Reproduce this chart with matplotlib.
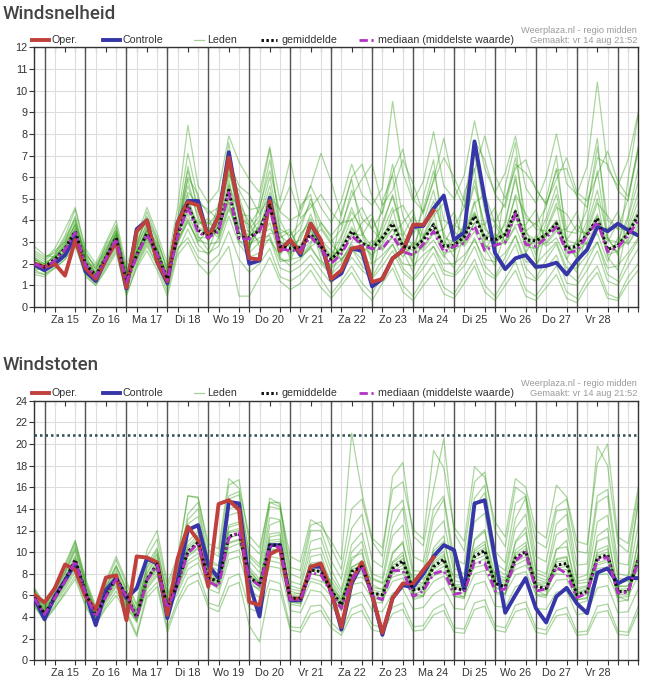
import numpy as np
import matplotlib
matplotlib.use('Agg')
import matplotlib.pyplot as plt
from matplotlib.lines import Line2D

W, H = 647, 682

days = ['Za 15', 'Zo 16', 'Ma 17', 'Di 18', 'Wo 19', 'Do 20', 'Vr 21',
        'Za 22', 'Zo 23', 'Ma 24', 'Di 25', 'Wo 26', 'Do 27', 'Vr 28']

# ---- Windsnelheid (6-hourly steps, start vr 14 18:00) ----
oper_snelheid = [2.0, 1.85, 2.0, 1.45, 3.1, 1.8, 1.3, 2.2, 3.0, 0.9, 3.5, 4.0, 2.1, 1.2, 3.9, 4.85, 4.7, 3.2, 4.2, 6.9,
                 4.6, 2.25, 2.2, 4.9, 2.6, 3.1, 2.5, 3.85, 3.1, 1.3, 1.7, 2.7, 2.8, 1.15, 1.3, 2.25, 2.6, 3.8, 3.8, 4.45]
ctrl_snelheid = [1.95, 1.7, 2.0, 2.4, 3.25, 1.65, 1.2, 2.2, 3.1, 0.85, 3.6, 4.0, 2.1, 1.1, 3.9, 4.9, 4.9, 3.2, 4.2, 7.15,
                 4.5, 2.0, 2.15, 5.05, 2.6, 3.1, 2.4, 3.85, 3.0, 1.25, 1.55, 2.7, 2.6, 0.95, 1.3, 2.25, 2.6, 3.7, 3.75, 4.55,
                 5.15, 3.1, 3.45, 7.65, 5.0, 2.5, 1.75, 2.25, 2.4, 1.85, 1.9, 2.05, 1.5, 2.15, 2.65, 3.7, 3.5, 3.85, 3.55, 3.3]
gem_snelheid = [2.0, 1.85, 2.2, 2.7, 3.5, 2.0, 1.45, 2.3, 3.2, 1.2, 2.4, 3.4, 2.5, 1.3, 3.3, 4.7, 3.55, 3.25, 3.6, 5.4,
                3.2, 3.2, 3.55, 4.7, 2.8, 2.7, 2.75, 3.35, 2.8, 2.2, 2.65, 3.5, 2.95, 2.7, 3.2, 3.85, 2.8, 2.7, 3.1, 3.8,
                2.8, 2.85, 3.25, 4.2, 3.2, 3.1, 3.35, 4.4, 3.1, 3.05, 3.35, 3.85, 2.7, 2.8, 3.35, 4.1, 2.65, 2.85, 3.4, 4.25]
med_snelheid = [2.0, 1.8, 2.15, 2.65, 3.45, 1.95, 1.4, 2.25, 3.15, 1.15, 2.35, 3.35, 2.45, 1.25, 3.25, 4.6, 3.45, 3.2, 3.5, 5.3,
                3.15, 3.15, 3.5, 4.6, 2.7, 2.6, 2.65, 3.25, 2.7, 2.0, 2.45, 3.3, 2.85, 2.7, 2.7, 3.3, 2.55, 2.4, 2.9, 3.5,
                2.55, 2.8, 2.95, 3.75, 2.6, 2.85, 3.0, 4.3, 2.9, 2.8, 3.2, 3.7, 2.5, 2.6, 3.3, 3.95, 2.55, 2.75, 3.3, 4.0]
leden_snelheid = [
    [2.2, 1.9, 2.4, 3.1, 4.0, 2.3, 1.6, 2.6, 3.6, 1.0, 2.7, 3.9, 2.8, 1.1, 3.8, 5.6, 4.2, 3.0, 4.1, 6.2, 4.5, 2.8, 3.6, 5.3, 3.1, 2.4, 3.3, 4.1, 2.5, 1.9, 3.2, 4.4, 3.6, 2.2, 3.9, 5.1, 3.3, 2.1, 3.7, 4.9, 3.4, 2.6, 3.9, 5.6, 3.8, 2.7, 4.0, 5.9, 3.6, 2.4, 3.9, 5.2, 3.0, 2.2, 3.8, 5.4, 3.2, 2.5, 4.1, 5.8],
    [1.8, 1.7, 2.0, 2.4, 3.1, 1.7, 1.3, 2.0, 2.8, 1.4, 2.1, 3.0, 2.2, 1.5, 2.9, 4.0, 3.0, 3.6, 3.2, 4.6, 3.6, 3.5, 3.0, 3.1, 2.4, 3.0, 2.3, 2.8, 3.1, 2.6, 2.2, 2.9, 2.4, 3.1, 2.7, 3.2, 2.3, 3.0, 2.6, 3.1, 2.3, 3.2, 2.8, 3.5, 2.6, 3.4, 2.9, 3.7, 2.5, 3.3, 2.8, 3.2, 2.2, 3.1, 2.9, 3.4, 2.1, 3.2, 2.9, 3.6],
    [2.6, 2.3, 2.5, 3.3, 4.5, 2.6, 1.7, 2.9, 3.8, 1.6, 3.0, 4.2, 3.1, 1.8, 4.0, 6.3, 4.6, 3.4, 4.3, 6.8, 5.1, 3.6, 4.2, 6.0, 3.6, 3.3, 3.9, 4.8, 3.7, 3.0, 3.6, 5.4, 4.1, 3.6, 4.4, 6.6, 4.2, 3.3, 4.5, 6.3, 4.0, 3.7, 4.6, 7.1, 4.4, 3.9, 4.8, 6.9, 4.1, 3.8, 4.6, 6.4, 3.5, 3.4, 4.5, 7.4, 4.0, 3.6, 5.0, 7.2],
    [1.5, 1.4, 1.8, 2.2, 2.8, 1.5, 1.0, 1.8, 2.6, 0.5, 1.9, 2.8, 1.9, 0.7, 2.6, 3.6, 2.6, 2.5, 2.8, 4.2, 2.9, 2.3, 2.5, 3.2, 1.8, 1.6, 1.9, 2.4, 1.7, 1.1, 1.6, 2.3, 1.7, 1.3, 1.9, 2.6, 1.6, 1.2, 1.8, 2.5, 1.5, 1.4, 1.9, 2.8, 1.6, 1.3, 2.0, 2.9, 1.4, 1.2, 1.8, 2.4, 1.1, 1.0, 1.7, 2.6, 1.2, 1.0, 1.9, 2.7],
    [2.0, 2.0, 2.3, 2.8, 3.4, 2.1, 1.5, 2.4, 3.3, 1.3, 2.5, 3.5, 2.6, 1.2, 3.4, 4.9, 3.8, 4.1, 3.3, 5.7, 4.3, 4.2, 3.4, 3.6, 3.2, 3.5, 2.6, 3.0, 3.6, 2.9, 2.4, 3.4, 3.3, 4.1, 3.1, 3.6, 3.3, 4.2, 3.3, 3.6, 2.9, 3.8, 3.5, 4.4, 3.2, 3.8, 3.0, 4.2, 3.5, 3.9, 3.2, 4.0, 3.1, 3.8, 3.3, 4.3, 3.0, 3.9, 3.5, 4.5],
    [2.3, 1.8, 2.1, 2.6, 3.7, 2.2, 1.4, 2.2, 3.0, 0.9, 2.3, 3.3, 2.4, 1.4, 3.1, 5.2, 3.3, 2.6, 3.9, 5.9, 3.5, 2.7, 3.9, 4.4, 2.2, 2.1, 3.4, 3.9, 2.2, 1.4, 2.9, 4.1, 2.6, 1.5, 3.5, 4.6, 2.6, 1.6, 3.3, 4.4, 2.4, 1.8, 3.4, 4.9, 2.7, 1.9, 3.5, 5.1, 2.5, 1.7, 3.6, 4.8, 2.2, 1.6, 3.6, 5.0, 2.3, 1.7, 3.8, 5.3],
    [1.9, 1.6, 2.2, 2.9, 3.6, 1.9, 1.2, 2.5, 3.4, 1.1, 2.6, 3.6, 2.7, 1.0, 3.5, 4.4, 3.9, 3.9, 3.5, 5.0, 4.8, 3.9, 2.8, 3.4, 3.4, 3.6, 2.4, 2.9, 3.9, 3.2, 2.1, 3.0, 3.9, 4.3, 2.6, 3.3, 3.9, 4.5, 2.7, 3.4, 3.6, 4.4, 2.9, 3.9, 3.8, 4.6, 2.9, 3.8, 3.8, 4.5, 2.9, 3.5, 3.6, 4.4, 2.8, 3.7, 3.6, 4.4, 2.9, 3.8],
    [2.1, 1.9, 2.0, 2.5, 3.3, 1.8, 1.6, 2.1, 3.1, 1.5, 2.2, 3.1, 2.3, 1.6, 3.0, 4.3, 3.2, 3.2, 3.7, 4.9, 3.0, 3.0, 3.7, 4.9, 2.9, 2.5, 2.9, 3.6, 2.6, 2.3, 2.8, 3.7, 3.0, 2.6, 3.1, 3.9, 2.9, 2.6, 3.1, 3.9, 2.8, 2.7, 3.2, 4.3, 3.1, 3.0, 3.3, 4.5, 3.0, 2.9, 3.3, 3.9, 2.6, 2.7, 3.3, 4.1, 2.6, 2.8, 3.4, 4.2],
    [2.4, 2.1, 2.6, 3.0, 4.2, 2.4, 1.9, 2.8, 3.5, 1.7, 2.9, 4.1, 3.0, 1.7, 4.1, 7.1, 5.0, 4.3, 4.6, 6.1, 5.4, 4.5, 4.6, 6.3, 4.4, 4.0, 4.3, 5.6, 4.6, 3.9, 4.9, 6.6, 5.2, 4.7, 5.5, 9.5, 6.2, 4.9, 5.8, 8.1, 5.6, 5.0, 6.1, 8.6, 6.4, 5.3, 6.2, 7.9, 5.5, 4.8, 6.0, 8.0, 5.7, 5.2, 6.5, 10.4, 6.4, 5.6, 6.8, 9.0],
    [1.6, 1.5, 1.9, 2.3, 3.0, 1.6, 1.1, 1.9, 2.7, 0.8, 2.0, 2.9, 2.0, 0.9, 2.7, 3.2, 2.3, 2.0, 2.4, 3.5, 2.2, 1.6, 2.0, 2.7, 1.4, 1.2, 1.5, 2.0, 1.3, 0.6, 1.2, 1.9, 1.1, 0.6, 1.5, 2.1, 1.0, 0.5, 1.3, 2.0, 0.9, 0.6, 1.4, 2.2, 1.0, 0.5, 1.3, 2.1, 0.8, 0.5, 1.2, 1.9, 0.7, 0.4, 1.3, 1.9, 0.6, 0.4, 1.4, 2.0],
    [2.2, 2.0, 2.3, 2.7, 3.9, 2.4, 1.5, 2.3, 3.5, 1.3, 2.4, 3.7, 2.9, 1.3, 3.6, 5.9, 4.0, 3.6, 3.8, 6.4, 4.7, 3.4, 4.0, 5.6, 3.3, 2.9, 3.1, 4.3, 3.0, 2.4, 3.3, 4.6, 3.4, 2.8, 3.7, 5.2, 3.5, 2.8, 3.9, 5.4, 3.2, 3.0, 3.7, 5.9, 3.6, 3.2, 3.8, 6.1, 3.4, 3.1, 4.1, 5.6, 3.1, 2.9, 4.0, 6.3, 3.1, 3.0, 4.2, 6.4],
    [1.7, 1.8, 2.1, 2.6, 3.2, 1.9, 1.3, 2.2, 3.0, 1.2, 2.3, 3.2, 2.4, 1.2, 3.1, 3.9, 3.1, 2.9, 3.0, 4.5, 3.4, 2.9, 3.2, 3.3, 2.1, 2.2, 2.3, 2.7, 2.1, 1.8, 2.2, 2.7, 2.2, 2.0, 2.4, 2.9, 2.0, 1.9, 2.4, 2.8, 2.0, 2.0, 2.4, 3.1, 2.2, 2.1, 2.5, 3.3, 2.1, 2.0, 2.5, 3.0, 1.8, 1.8, 2.4, 3.0, 1.8, 1.9, 2.5, 3.2],
    [2.0, 1.7, 2.3, 3.0, 3.8, 2.2, 1.6, 2.5, 3.4, 1.4, 2.6, 3.5, 2.6, 1.4, 3.5, 6.5, 4.4, 3.8, 4.4, 7.6, 4.1, 3.8, 4.5, 6.8, 4.0, 3.1, 3.6, 5.0, 3.9, 3.3, 3.9, 4.0, 4.6, 3.6, 3.0, 4.4, 4.7, 3.8, 3.2, 4.2, 4.8, 3.5, 3.0, 4.8, 5.2, 3.9, 3.3, 5.2, 4.3, 3.6, 3.5, 4.6, 4.3, 3.5, 3.4, 4.8, 4.2, 3.6, 3.6, 4.9],
    [2.1, 1.8, 2.2, 2.8, 3.5, 2.0, 1.4, 2.3, 3.2, 1.1, 2.4, 3.4, 2.5, 1.2, 3.3, 4.6, 3.6, 3.4, 3.4, 5.2, 3.7, 3.3, 3.5, 4.5, 3.0, 2.8, 2.7, 3.4, 2.7, 2.2, 2.5, 3.3, 2.8, 2.4, 2.9, 3.6, 2.6, 2.4, 2.8, 3.5, 2.5, 2.6, 3.0, 3.9, 2.8, 2.8, 3.0, 4.2, 2.8, 2.7, 3.0, 3.6, 2.5, 2.5, 3.0, 3.9, 2.4, 2.6, 3.1, 4.0],
    [2.3, 2.0, 2.4, 3.2, 4.1, 2.1, 1.8, 2.7, 3.3, 1.5, 2.8, 3.8, 2.7, 1.5, 3.9, 5.3, 4.8, 4.5, 4.0, 6.7, 5.6, 5.2, 4.3, 5.1, 4.5, 5.6, 4.1, 4.6, 5.2, 4.4, 3.8, 5.1, 5.9, 6.6, 4.7, 5.4, 6.8, 5.7, 4.3, 5.9, 7.8, 5.6, 4.6, 6.3, 7.9, 6.1, 5.0, 6.4, 6.8, 5.4, 4.8, 5.9, 6.9, 5.3, 4.9, 6.1, 7.2, 5.8, 5.1, 7.4],
    [1.9, 1.9, 2.1, 2.5, 3.2, 1.8, 1.3, 2.1, 2.9, 1.0, 2.2, 3.2, 2.2, 1.0, 3.0, 4.1, 2.9, 2.4, 3.2, 4.8, 3.1, 2.5, 3.0, 3.9, 2.3, 1.9, 2.2, 2.8, 2.0, 1.5, 2.0, 2.7, 1.9, 1.4, 2.2, 2.9, 1.8, 1.3, 2.1, 2.8, 1.7, 1.5, 2.2, 3.2, 1.9, 1.4, 2.3, 3.3, 1.8, 1.3, 2.2, 2.9, 1.6, 1.2, 2.1, 3.0, 1.5, 1.2, 2.3, 3.1],
    [2.5, 2.2, 2.7, 3.6, 4.6, 2.7, 2.0, 3.0, 4.0, 1.9, 3.2, 4.6, 3.4, 2.0, 4.6, 8.4, 5.6, 4.8, 5.4, 7.9, 6.7, 5.9, 5.3, 7.4, 4.9, 6.8, 4.5, 5.6, 7.1, 5.8, 4.2, 6.0, 6.6, 5.1, 4.3, 6.2, 7.3, 5.0, 4.4, 5.8, 6.9, 6.0, 4.9, 7.7, 6.8, 5.2, 4.6, 6.6, 6.2, 5.5, 4.7, 6.3, 6.4, 5.1, 4.6, 6.9, 6.6, 5.4, 4.9, 7.4],
    [1.7, 1.5, 1.8, 2.2, 2.9, 1.4, 1.0, 1.7, 2.5, 0.6, 1.8, 2.6, 1.7, 0.5, 2.4, 3.0, 2.0, 1.5, 2.1, 2.8, 0.5, 0.5, 1.4, 2.3, 1.2, 0.8, 1.1, 1.7, 0.9, 0.4, 1.0, 1.6, 0.8, 0.3, 1.1, 1.8, 0.7, 0.3, 1.0, 1.6, 0.6, 0.4, 1.1, 1.9, 0.7, 0.3, 1.0, 1.7, 0.5, 0.3, 0.9, 1.5, 0.4, 0.2, 1.0, 1.6, 0.4, 0.3, 1.1, 1.7],
    [2.8, 2.4, 2.3, 2.9, 3.8, 2.5, 1.8, 2.6, 3.7, 1.6, 2.8, 4.4, 3.2, 1.6, 3.7, 6.0, 5.2, 3.1, 4.8, 6.5, 3.9, 2.6, 4.9, 7.3, 3.5, 2.2, 4.7, 5.2, 2.8, 1.8, 4.4, 5.9, 3.4, 2.0, 4.9, 6.1, 3.0, 2.0, 5.1, 6.8, 3.1, 2.3, 5.3, 6.4, 2.9, 2.2, 5.6, 7.6, 3.3, 2.1, 5.0, 7.0, 2.9, 2.3, 5.4, 7.8, 3.2, 2.4, 5.9, 8.9],
    [2.0, 1.8, 2.1, 2.6, 3.6, 2.0, 1.5, 2.4, 3.3, 1.3, 2.5, 3.6, 2.6, 1.3, 3.4, 4.8, 3.7, 3.4, 3.8, 5.6, 3.4, 3.3, 3.7, 4.8, 2.9, 2.8, 2.8, 3.5, 2.9, 2.3, 2.7, 3.6, 3.0, 2.8, 3.3, 4.0, 2.9, 2.8, 3.2, 3.9, 2.9, 2.9, 3.3, 4.3, 3.3, 3.2, 3.4, 4.5, 3.2, 3.1, 3.4, 4.0, 2.8, 2.9, 3.4, 4.2, 2.7, 2.9, 3.5, 4.3],
]

# ---- Windstoten ----
oper_stoten = [6.05, 5.35, 6.65, 8.85, 8.35, 5.9, 4.7, 7.65, 7.85, 3.7, 9.6, 9.5, 9.05, 4.2, 9.4, 12.35, 11.1, 6.8, 14.45, 14.8,
               13.9, 5.4, 5.1, 9.8, 10.3, 5.7, 5.7, 8.65, 8.95, 6.3, 3.1, 7.4, 9.05, 6.05, 2.55, 5.75, 7.1, 7.1, 8.35, 9.5]
ctrl_stoten = [5.75, 3.8, 5.9, 7.4, 8.95, 6.2, 3.25, 6.5, 7.6, 5.75, 6.65, 9.4, 8.95, 3.9, 7.4, 12.05, 12.5, 8.8, 7.6, 14.65,
               14.5, 7.1, 4.05, 10.65, 10.65, 5.55, 5.55, 8.65, 8.65, 6.4, 2.85, 7.1, 8.95, 6.05, 2.35, 5.75, 6.95, 6.75, 8.0, 9.6,
               10.65, 10.2, 6.5, 14.5, 14.8, 9.5, 4.4, 6.05, 7.6, 4.8, 3.5, 5.9, 6.7, 5.25, 4.35, 8.1, 8.5, 7.1, 7.6, 7.6]
gem_stoten = [5.8, 4.3, 5.8, 7.4, 9.3, 6.3, 4.1, 6.0, 7.6, 6.0, 4.0, 7.5, 8.9, 4.9, 7.1, 10.05, 10.9, 7.6, 7.3, 11.45,
              11.75, 7.75, 6.95, 10.65, 10.65, 5.75, 5.7, 8.35, 8.2, 6.5, 5.1, 8.2, 8.65, 6.2, 6.05, 8.5, 9.2, 6.5, 6.65, 8.65,
              9.35, 6.65, 6.5, 9.6, 10.15, 7.1, 6.8, 9.45, 10.05, 6.8, 6.65, 8.8, 8.95, 6.05, 6.35, 9.45, 9.75, 6.35, 6.35, 9.35]
med_stoten = [5.75, 4.25, 5.75, 7.3, 9.2, 6.2, 4.0, 5.9, 7.5, 5.9, 3.9, 7.4, 8.8, 4.8, 7.0, 9.9, 10.8, 7.3, 6.8, 11.3,
              11.9, 7.6, 6.9, 10.5, 10.5, 5.6, 5.6, 8.1, 7.9, 6.2, 4.8, 7.5, 8.7, 6.0, 5.6, 8.3, 8.3, 5.9, 6.4, 8.0,
              8.3, 6.1, 6.3, 9.1, 9.0, 6.4, 6.6, 9.2, 10.0, 6.4, 6.6, 8.6, 8.0, 5.8, 6.2, 9.3, 9.5, 6.2, 6.3, 9.2]
leden_stoten = [
    [6.2, 4.6, 6.3, 8.0, 10.1, 6.8, 4.4, 6.5, 8.3, 6.0, 3.6, 8.1, 9.8, 4.8, 7.8, 11.8, 12.6, 8.0, 7.9, 13.4, 13.7, 7.2, 7.4, 12.5, 12.9, 5.4, 5.3, 9.6, 9.8, 6.9, 4.6, 9.2, 10.3, 6.0, 5.4, 9.8, 11.0, 6.3, 5.9, 10.4, 11.5, 6.3, 5.8, 11.2, 12.1, 6.8, 6.1, 11.0, 12.3, 6.5, 6.0, 10.2, 11.1, 5.6, 5.7, 11.5, 12.2, 5.9, 5.5, 11.3],
    [5.5, 4.1, 5.5, 7.0, 8.7, 6.0, 3.9, 5.7, 7.2, 5.2, 4.2, 7.0, 8.3, 5.6, 6.7, 9.2, 9.9, 7.9, 6.9, 10.4, 10.8, 8.4, 7.1, 9.6, 9.4, 6.4, 6.1, 7.6, 7.3, 6.8, 5.7, 7.5, 7.7, 6.7, 6.6, 7.7, 8.0, 6.9, 7.1, 7.8, 8.2, 7.0, 7.0, 8.6, 8.8, 7.5, 7.3, 8.4, 8.8, 7.2, 7.1, 8.0, 7.9, 6.5, 6.8, 8.5, 8.6, 6.8, 6.9, 8.4],
    [6.5, 5.0, 6.6, 8.4, 10.8, 7.1, 4.6, 6.9, 8.8, 6.6, 4.6, 8.9, 10.4, 6.2, 8.4, 13.5, 14.6, 9.3, 8.8, 14.9, 15.3, 9.6, 8.6, 14.2, 14.0, 7.3, 7.0, 11.0, 11.3, 8.4, 6.5, 10.7, 11.8, 8.0, 7.6, 12.4, 14.1, 8.3, 8.2, 13.2, 14.9, 8.5, 8.0, 14.2, 15.5, 9.0, 8.3, 13.1, 15.0, 8.4, 8.0, 12.6, 13.5, 7.6, 7.9, 14.6, 15.2, 8.0, 7.8, 14.8],
    [5.2, 3.8, 5.1, 6.6, 8.2, 5.6, 3.6, 5.3, 6.8, 4.9, 3.5, 6.6, 7.8, 4.5, 6.2, 8.4, 9.0, 6.6, 6.2, 9.3, 9.6, 6.5, 5.8, 8.7, 8.5, 4.6, 4.4, 6.5, 6.3, 5.0, 3.8, 6.0, 6.3, 4.6, 4.5, 6.2, 6.6, 4.7, 4.9, 6.1, 6.7, 4.8, 4.7, 7.0, 7.3, 5.0, 4.9, 6.8, 7.2, 4.8, 4.7, 6.3, 6.4, 4.2, 4.4, 6.7, 6.9, 4.4, 4.5, 6.6],
    [5.9, 4.4, 5.9, 7.5, 9.5, 6.5, 4.2, 6.1, 7.8, 5.7, 4.3, 7.7, 9.2, 5.1, 7.3, 10.6, 11.6, 6.9, 7.8, 12.3, 12.6, 7.0, 6.6, 11.4, 11.6, 5.2, 5.0, 8.9, 8.6, 5.8, 4.7, 8.6, 9.2, 5.4, 5.3, 9.1, 10.0, 5.6, 5.9, 9.3, 10.1, 5.9, 5.7, 10.3, 11.0, 6.2, 6.0, 10.2, 10.9, 6.0, 5.8, 9.4, 9.6, 5.2, 5.5, 10.2, 10.6, 5.4, 5.6, 10.0],
    [6.0, 4.5, 6.0, 7.6, 9.0, 6.2, 4.0, 6.2, 7.4, 5.4, 3.9, 7.3, 8.6, 5.0, 6.9, 9.8, 10.4, 8.4, 7.1, 10.9, 11.2, 8.6, 7.5, 10.1, 10.3, 6.6, 6.4, 8.0, 7.8, 7.4, 5.9, 7.9, 8.3, 7.5, 7.1, 8.2, 8.8, 7.7, 7.5, 8.4, 9.0, 7.8, 7.4, 9.3, 9.7, 8.0, 7.6, 9.1, 9.6, 7.8, 7.4, 8.5, 8.7, 7.1, 7.2, 9.0, 9.3, 7.2, 7.3, 9.0],
    [6.7, 5.2, 6.9, 8.7, 11.0, 7.4, 4.8, 7.2, 9.3, 7.0, 5.0, 9.6, 11.2, 6.7, 9.1, 15.2, 15.1, 10.2, 9.6, 16.2, 16.7, 10.8, 9.8, 15.0, 14.4, 8.6, 8.3, 12.5, 12.8, 10.4, 8.4, 14.0, 14.9, 11.0, 9.6, 17.0, 18.3, 11.5, 10.6, 15.8, 20.5, 11.8, 10.1, 16.5, 17.4, 12.0, 10.5, 16.0, 15.3, 11.0, 10.4, 14.2, 14.9, 10.1, 9.9, 19.8, 18.0, 10.8, 10.0, 15.5],
    [5.0, 3.6, 4.8, 6.3, 7.8, 5.2, 3.4, 5.0, 6.4, 4.6, 2.4, 6.2, 7.2, 3.0, 5.6, 7.6, 8.1, 5.3, 5.0, 7.6, 8.0, 4.8, 4.4, 7.4, 7.1, 3.1, 3.0, 5.0, 5.1, 3.5, 2.6, 4.8, 5.2, 3.3, 3.0, 4.9, 5.3, 3.1, 3.2, 4.7, 5.2, 3.0, 2.9, 5.3, 5.6, 3.2, 3.0, 5.1, 5.4, 3.0, 2.8, 4.6, 4.9, 2.6, 2.7, 5.0, 5.2, 2.7, 2.6, 5.0],
    [5.6, 4.2, 5.7, 7.2, 9.1, 6.1, 4.1, 5.9, 7.5, 5.6, 4.0, 7.4, 8.7, 5.5, 7.0, 10.2, 11.1, 7.6, 7.3, 11.8, 12.0, 7.9, 6.9, 10.9, 11.0, 5.9, 5.8, 8.4, 8.3, 6.6, 5.2, 8.4, 8.8, 6.3, 6.1, 8.8, 9.4, 6.6, 6.8, 8.9, 9.6, 6.8, 6.6, 9.9, 10.4, 7.2, 6.9, 9.7, 10.3, 7.0, 6.8, 9.1, 9.2, 6.2, 6.5, 9.7, 10.0, 6.5, 6.4, 9.6],
    [6.1, 4.7, 6.1, 7.8, 9.7, 6.6, 4.3, 6.3, 8.0, 5.9, 4.5, 8.0, 9.5, 5.3, 7.5, 11.0, 11.9, 8.2, 7.5, 12.5, 12.8, 8.2, 7.3, 11.7, 11.8, 6.1, 6.2, 9.0, 9.1, 7.2, 5.5, 9.5, 9.9, 7.0, 6.5, 10.0, 10.8, 7.2, 7.2, 10.1, 11.0, 7.4, 7.1, 11.1, 11.9, 7.8, 7.4, 10.9, 11.8, 7.5, 7.2, 10.3, 10.5, 6.7, 6.9, 11.0, 11.4, 6.9, 6.8, 10.9],
    [5.4, 4.0, 5.4, 6.8, 8.5, 5.8, 3.8, 5.5, 7.0, 5.0, 3.7, 6.8, 8.0, 4.9, 6.5, 8.9, 9.5, 7.2, 6.6, 9.9, 10.2, 7.4, 6.4, 9.2, 9.0, 5.4, 5.2, 7.3, 7.0, 5.9, 4.6, 7.0, 7.2, 5.7, 5.6, 7.3, 7.6, 5.8, 6.0, 7.3, 7.8, 5.9, 5.9, 8.0, 8.3, 6.3, 6.2, 7.9, 8.2, 6.1, 6.0, 7.4, 7.5, 5.6, 5.8, 7.9, 8.0, 5.8, 5.9, 7.8],
    [6.3, 4.8, 6.4, 8.1, 10.3, 7.0, 4.5, 6.7, 8.6, 6.3, 4.4, 8.5, 9.9, 5.9, 8.1, 12.6, 13.3, 8.8, 8.3, 14.0, 14.3, 9.2, 8.1, 13.2, 13.0, 6.9, 6.6, 10.2, 10.4, 7.8, 6.2, 10.0, 11.0, 7.6, 7.2, 11.5, 12.5, 7.9, 7.8, 11.8, 12.9, 8.0, 7.6, 12.8, 13.6, 8.5, 7.9, 12.2, 13.5, 8.1, 7.7, 11.6, 12.2, 7.3, 7.5, 12.8, 13.4, 7.6, 7.4, 12.6],
    [5.7, 4.3, 5.6, 7.1, 9.0, 6.0, 3.9, 5.8, 7.3, 5.3, 3.8, 7.2, 8.5, 5.3, 6.9, 9.6, 10.3, 7.5, 7.0, 10.8, 11.1, 7.6, 6.7, 10.3, 10.2, 5.6, 5.5, 8.0, 7.8, 6.3, 4.9, 7.8, 8.1, 5.9, 5.8, 8.0, 8.5, 6.1, 6.4, 8.1, 8.7, 6.3, 6.2, 8.9, 9.4, 6.7, 6.5, 8.8, 9.3, 6.5, 6.4, 8.3, 8.4, 5.9, 6.1, 8.8, 9.1, 6.1, 6.1, 8.8],
    [5.8, 4.4, 5.8, 7.3, 9.2, 6.2, 4.0, 6.0, 7.6, 5.5, 4.1, 7.5, 8.8, 5.4, 7.1, 10.0, 10.8, 7.7, 7.3, 11.3, 11.6, 7.8, 6.9, 10.5, 10.6, 5.8, 5.7, 8.3, 8.2, 6.5, 5.1, 8.2, 8.6, 6.2, 6.0, 8.5, 9.1, 6.5, 6.6, 8.6, 9.3, 6.6, 6.5, 9.5, 10.1, 7.1, 6.8, 9.4, 10.0, 6.8, 6.6, 8.7, 8.9, 6.1, 6.3, 9.4, 9.7, 6.3, 6.3, 9.3],
    [6.6, 5.1, 6.8, 8.9, 11.1, 7.6, 5.0, 7.4, 9.6, 7.3, 5.2, 10.2, 12.0, 7.1, 9.6, 15.2, 15.0, 10.8, 10.3, 16.8, 15.9, 11.5, 10.4, 14.6, 14.2, 9.6, 9.1, 13.0, 12.4, 11.0, 9.3, 21.0, 15.5, 11.3, 10.4, 15.8, 16.5, 12.1, 11.2, 19.4, 17.8, 12.3, 11.0, 17.9, 16.9, 12.8, 11.4, 16.8, 16.0, 12.0, 11.3, 16.2, 15.1, 11.0, 10.7, 18.2, 20.0, 11.4, 10.8, 16.0],
    [5.1, 3.7, 4.9, 6.1, 7.5, 5.0, 3.3, 4.8, 6.0, 4.3, 2.2, 5.8, 6.8, 2.6, 5.2, 6.9, 7.4, 4.9, 4.5, 6.8, 7.2, 3.2, 1.7, 6.6, 6.4, 2.8, 2.6, 4.3, 4.6, 3.0, 2.3, 4.2, 4.6, 2.8, 2.6, 4.3, 4.7, 2.7, 2.8, 4.2, 4.6, 2.6, 2.5, 4.7, 5.0, 2.8, 2.6, 4.5, 4.8, 2.6, 2.4, 4.1, 4.3, 2.3, 2.4, 4.4, 4.6, 2.4, 2.3, 4.5],
    [6.4, 4.9, 6.5, 8.2, 10.5, 7.2, 4.6, 6.8, 8.7, 6.5, 4.7, 8.6, 10.2, 6.0, 8.0, 13.0, 14.0, 9.0, 8.7, 15.2, 15.6, 9.8, 8.9, 14.6, 14.6, 8.0, 7.6, 12.0, 12.0, 9.2, 7.5, 12.2, 13.5, 9.3, 8.6, 13.8, 14.8, 9.6, 9.1, 14.0, 15.2, 9.4, 8.9, 15.0, 16.2, 10.1, 9.0, 14.5, 15.2, 9.6, 9.1, 13.8, 14.0, 8.8, 8.9, 15.2, 15.8, 9.0, 8.8, 14.6],
    [5.9, 4.4, 5.9, 7.5, 9.4, 6.4, 4.2, 6.1, 7.7, 5.8, 4.2, 7.6, 9.0, 5.2, 7.2, 10.4, 11.3, 7.8, 7.5, 11.9, 12.2, 8.0, 7.1, 11.1, 11.2, 6.0, 5.9, 8.7, 8.6, 6.8, 5.4, 8.6, 9.1, 6.5, 6.3, 9.0, 9.7, 6.8, 6.9, 9.1, 9.8, 6.9, 6.8, 10.1, 10.7, 7.4, 7.1, 9.9, 10.6, 7.1, 6.9, 9.3, 9.5, 6.3, 6.6, 9.9, 10.3, 6.6, 6.6, 9.8],
]
grens_stoten = 20.8

RED = '#c0403c'
BLUE = '#3636a8'
GREEN = '#2e9a10'
MAGENTA = '#b232c2'
TXT = '#333333'

plt.rcParams['font.family'] = ['Liberation Sans', 'DejaVu Sans']

fig = plt.figure(figsize=(W / 100, H / 100), dpi=100)


def fy(y):
    return 1 - y / H


def draw_legend(y):
    items = [
        (31.7, 49.3, dict(color=RED, lw=2.8), 'Oper.', 51.5),
        (103.3, 120.0, dict(color=BLUE, lw=2.8), 'Controle', 122.5),
        (194.0, 204.0, dict(color='#a9cf98', lw=0.9), 'Leden', 207.0),
        (261.0, 277.0, dict(color='#111111', lw=2.2, ls=(0, (0.8, 0.8))), 'gemiddelde', 281.0),
        (359.0, 376.0, dict(color=MAGENTA, lw=2.0, ls=(0, (3, 1.3, 0.8, 1.3))), 'mediaan (middelste waarde)', 378.5),
    ]
    for x0, x1, style, label, tx in items:
        fig.add_artist(Line2D([x0 / W, x1 / W], [fy(y), fy(y)], transform=fig.transFigure, **style))
        fig.text(tx / W, fy(y), label, ha='left', va='center', fontsize=7.7, color=TXT)
    fig.text(637 / W, fy(y - 9.5), 'Weerplaza.nl - regio midden', ha='right', va='center',
             fontsize=6.7, color='#9a9a9a')
    fig.text(637 / W, fy(y + 0.5), 'Gemaakt: vr 14 aug 21:52', ha='right', va='center',
             fontsize=6.7, color='#9a9a9a')


def draw_panel(ax, leden, oper, ctrl, gem, med, ymax, ystep):
    for lid in leden:
        ax.plot(range(len(lid)), lid, color=GREEN, lw=0.9, alpha=0.4, zorder=2)
    ax.plot(range(len(ctrl)), ctrl, color=BLUE, lw=2.8, zorder=4)
    ax.plot(range(len(oper)), oper, color=RED, lw=2.8, zorder=5)
    ax.plot(range(len(gem)), gem, color='#111111', lw=2.2, ls=(0, (0.8, 0.8)), zorder=6)
    ax.plot(range(len(med)), med, color=MAGENTA, lw=2.0, ls=(0, (3, 1.3, 0.8, 1.3)), zorder=6)

    n = len(gem)
    ax.set_xlim(0, n - 1)
    ax.set_ylim(0, ymax)

    # 6-hourly grid, dark lines at midnight
    ax.set_xticks(range(n), minor=True)
    ax.set_xticks([3 + 4 * i for i in range(len(days))])
    ax.set_xticklabels(days)
    ax.set_yticks(np.arange(0, ymax + 0.1, ystep))
    ax.grid(which='minor', axis='x', color='#dddddd', lw=0.8, zorder=0)
    ax.grid(which='major', axis='y', color='#dddddd', lw=0.8, zorder=0)
    ax.set_axisbelow(True)
    for x in range(1, n, 4):
        ax.axvline(x, color='#555555', lw=1.0, zorder=1)

    ax.tick_params(which='major', axis='x', length=0, pad=5.5, labelsize=7.8, labelcolor=TXT)
    ax.tick_params(which='minor', axis='x', direction='out', length=3.5, color='#333333', width=0.8)
    ax.tick_params(axis='y', direction='out', length=3.5, pad=1.5, labelsize=7.8,
                   labelcolor=TXT, color='#333333', width=0.8)
    top = ax.secondary_xaxis('top')
    top.set_xticks(range(n))
    top.tick_params(direction='in', length=3.5, labeltop=False, color='#333333', width=0.8)
    top.spines['top'].set_visible(False)

    for s in ax.spines.values():
        s.set_color('#333333')
        s.set_linewidth(1.0)


ax1 = fig.add_axes([34.3 / W, fy(307.0), 604.0 / W, 259.7 / H])
draw_panel(ax1, leden_snelheid, oper_snelheid, ctrl_snelheid, gem_snelheid, med_snelheid, 12, 1)

ax2 = fig.add_axes([34.3 / W, fy(660.3), 604.0 / W, 259.6 / H])
draw_panel(ax2, leden_stoten, oper_stoten, ctrl_stoten, gem_stoten, med_stoten, 24, 2)
ax2.axhline(grens_stoten, color='#2f4f4f', lw=1.8, ls=(0, (1, 1.2)), zorder=3)

fig.text(3 / W, fy(14), 'Windsnelheid', ha='left', va='center', fontsize=13.5,
         fontweight='medium', color='#444444', family=['Roboto', 'DejaVu Sans'])
fig.text(3 / W, fy(365), 'Windstoten', ha='left', va='center', fontsize=13.5,
         fontweight='medium', color='#444444', family=['Roboto', 'DejaVu Sans'])

draw_legend(40.0)
draw_legend(393.3)

fig.savefig('out.png', dpi=100)
